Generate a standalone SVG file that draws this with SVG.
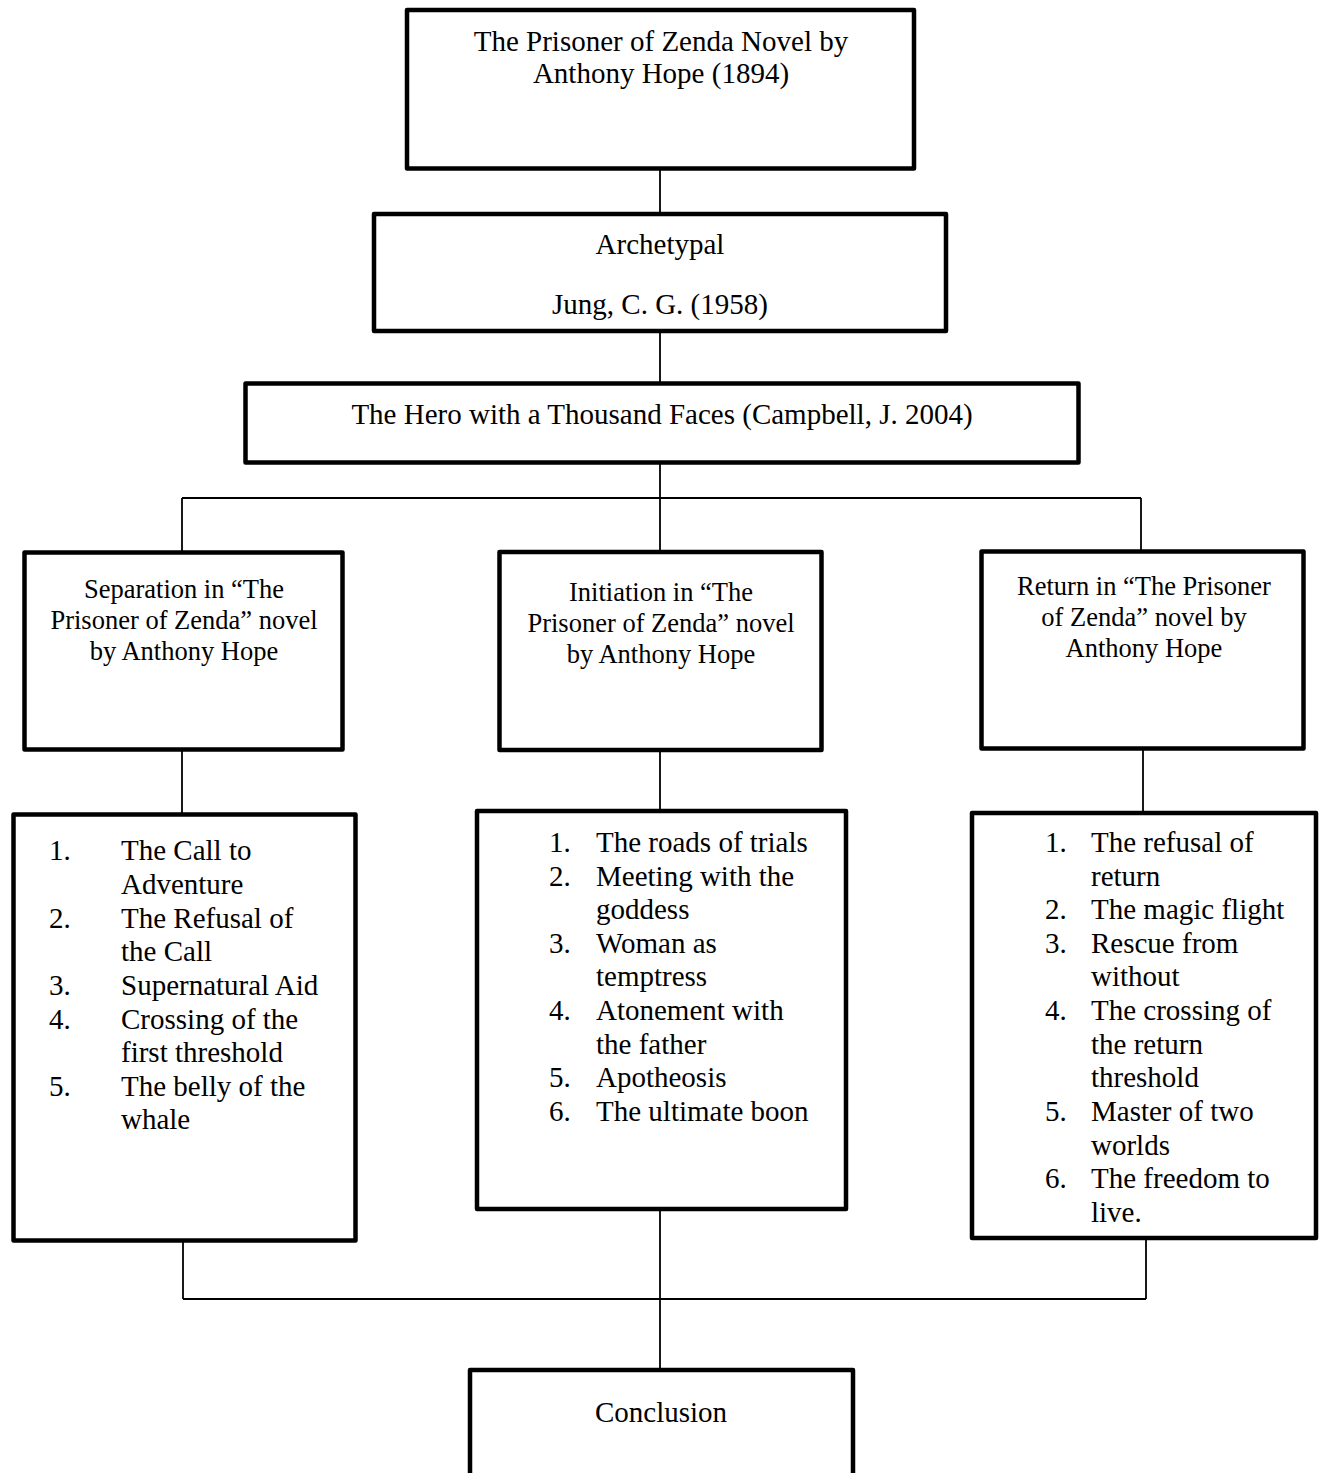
<svg xmlns="http://www.w3.org/2000/svg" width="1321" height="1473" viewBox="0 0 1321 1473">
<style>
.box{fill:#fff;stroke:#000;stroke-width:4.5;stroke-linejoin:round}
.ln{fill:none;stroke:#000;stroke-width:1.8}
text{font-family:"Liberation Serif","Times New Roman",serif;fill:#000}
.c{font-size:29px;text-anchor:middle}
.h{font-size:26.5px;text-anchor:middle}
.l{font-size:29px}
</style>
<rect width="1321" height="1473" fill="#fff"/>
<g id="connectors">
<path class="ln" d="M660 170V214M660 331V383M660 463V498M182 498H1141M182 498V552M660 498V551M1141 498V551"/>
<path class="ln" d="M182 750V814M660 750V811M1143 750V813"/>
<path class="ln" d="M183 1241V1299M1146 1239V1299M183 1299H1146M660 1209V1369"/>
</g>
<g id="n-novel">
<rect class="box" x="407" y="10" width="507" height="158.5"/>
<text class="c" x="661" y="51">The Prisoner of Zenda Novel by</text>
<text class="c" x="661" y="83">Anthony Hope (1894)</text>
</g>
<g id="n-archetypal">
<rect class="box" x="374" y="214" width="572" height="117"/>
<text class="c" x="660" y="254">Archetypal</text>
<text class="c" x="660" y="314">Jung, C. G. (1958)</text>
</g>
<g id="n-hero">
<rect class="box" x="245.5" y="383.5" width="833" height="79"/>
<text class="c" x="662" y="424">The Hero with a Thousand Faces (Campbell, J. 2004)</text>
</g>
<g id="n-separation">
<rect class="box" x="24.5" y="552.5" width="318" height="197"/>
<text class="h" x="184" y="598">Separation in “The</text>
<text class="h" x="184" y="629">Prisoner of Zenda” novel</text>
<text class="h" x="184" y="660">by Anthony Hope</text>
</g>
<g id="n-initiation">
<rect class="box" x="499.5" y="552" width="322" height="198"/>
<text class="h" x="661" y="601">Initiation in “The</text>
<text class="h" x="661" y="632">Prisoner of Zenda” novel</text>
<text class="h" x="661" y="663">by Anthony Hope</text>
</g>
<g id="n-return">
<rect class="box" x="981.5" y="551.5" width="322" height="197"/>
<text class="h" x="1144" y="595">Return in “The Prisoner</text>
<text class="h" x="1144" y="626">of Zenda” novel by</text>
<text class="h" x="1144" y="657">Anthony Hope</text>
</g>
<g id="n-separation-list">
<rect class="box" x="13.5" y="814.5" width="342" height="426"/>
<text class="l" x="49" y="860">1.</text><text class="l" x="121" y="860">The Call to</text>
<text class="l" x="121" y="894">Adventure</text>
<text class="l" x="49" y="928">2.</text><text class="l" x="121" y="928">The Refusal of</text>
<text class="l" x="121" y="961">the Call</text>
<text class="l" x="49" y="995">3.</text><text class="l" x="121" y="995">Supernatural Aid</text>
<text class="l" x="49" y="1029">4.</text><text class="l" x="121" y="1029">Crossing of the</text>
<text class="l" x="121" y="1062">first threshold</text>
<text class="l" x="49" y="1096">5.</text><text class="l" x="121" y="1096">The belly of the</text>
<text class="l" x="121" y="1129">whale</text>
</g>
<g id="n-initiation-list">
<rect class="box" x="477" y="811" width="369" height="398"/>
<text class="l" x="549" y="852">1.</text><text class="l" x="596" y="852">The roads of trials</text>
<text class="l" x="549" y="886">2.</text><text class="l" x="596" y="886">Meeting with the</text>
<text class="l" x="596" y="919">goddess</text>
<text class="l" x="549" y="953">3.</text><text class="l" x="596" y="953">Woman as</text>
<text class="l" x="596" y="986">temptress</text>
<text class="l" x="549" y="1020">4.</text><text class="l" x="596" y="1020">Atonement with</text>
<text class="l" x="596" y="1054">the father</text>
<text class="l" x="549" y="1087">5.</text><text class="l" x="596" y="1087">Apotheosis</text>
<text class="l" x="549" y="1121">6.</text><text class="l" x="596" y="1121">The ultimate boon</text>
</g>
<g id="n-return-list">
<rect class="box" x="972" y="813" width="344" height="425"/>
<text class="l" x="1045" y="852">1.</text><text class="l" x="1091" y="852">The refusal of</text>
<text class="l" x="1091" y="886">return</text>
<text class="l" x="1045" y="919">2.</text><text class="l" x="1091" y="919">The magic flight</text>
<text class="l" x="1045" y="953">3.</text><text class="l" x="1091" y="953">Rescue from</text>
<text class="l" x="1091" y="986">without</text>
<text class="l" x="1045" y="1020">4.</text><text class="l" x="1091" y="1020">The crossing of</text>
<text class="l" x="1091" y="1054">the return</text>
<text class="l" x="1091" y="1087">threshold</text>
<text class="l" x="1045" y="1121">5.</text><text class="l" x="1091" y="1121">Master of two</text>
<text class="l" x="1091" y="1155">worlds</text>
<text class="l" x="1045" y="1188">6.</text><text class="l" x="1091" y="1188">The freedom to</text>
<text class="l" x="1091" y="1222">live.</text>
</g>
<g id="n-conclusion">
<rect class="box" x="470" y="1370" width="383" height="120"/>
<text class="c" x="661" y="1422">Conclusion</text>
</g>
</svg>
